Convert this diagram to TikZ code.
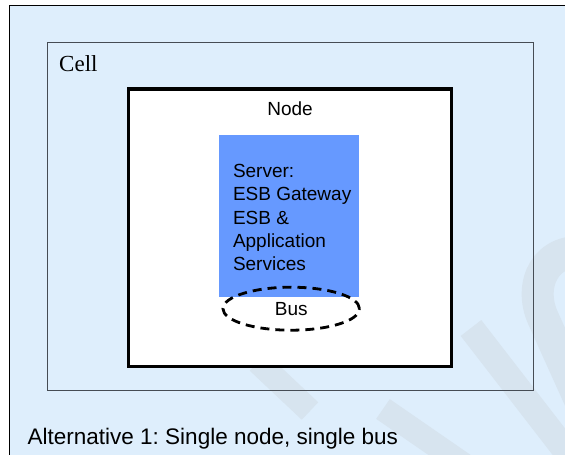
\documentclass[tikz,border=0pt]{standalone}
\usepackage{fontspec}
\setmainfont{Liberation Sans}
\newfontfamily\cellfont{Liberation Serif}
\usetikzlibrary{positioning,shapes.geometric}
\definecolor{pagebg}{RGB}{222,238,252}
\definecolor{wmgrey}{RGB}{215,228,239}
\definecolor{serverblue}{RGB}{102,153,255}
\definecolor{cellline}{RGB}{70,76,84}
\frenchspacing

\begin{document}
\begin{tikzpicture}[x=1pt,y=-1pt,
    cellbox/.style={draw=cellline,line width=1pt,minimum width=486.3pt,minimum height=347.7pt,inner sep=0pt},
    nodebox/.style={draw,line width=3.2pt,fill=white,minimum width=323.4pt,minimum height=277.7pt,inner sep=0pt},
    serverbox/.style={fill=serverblue,minimum width=140pt,minimum height=162pt,inner sep=0pt},
    busring/.style={ellipse,draw,line width=2.8pt,dash pattern=on 9pt off 6pt,minimum width=136.5pt,minimum height=43pt,inner sep=0pt},
    txt/.style={font=\fontsize{19}{23.3}\selectfont,inner sep=0pt},
    wmband/.style={draw=wmgrey,line width=24pt}]
  \useasboundingbox (0,0) rectangle (565,455);
  \fill[white] (0,0) rectangle (565,455);
  \fill[pagebg] (9,5) rectangle (565,455);
  \begin{scope}
    \clip (9,5) rectangle (565,455);
    \draw[wmband] (258,362) -- (310,411);
    \draw[wmband] (383,409) -- (480,476);
    \draw[wmband,line width=26pt] (471,328) -- (590,482);
    \draw[wmband,line width=32pt] (590,253) .. controls (545,245) and (528,285) .. (543,318) -- (580,400);
  \end{scope}
  \draw (9,455) -- (9,5) -- (565,5);

  \node[cellbox] (cell) at (290.15,216.15) {};
  \node[anchor=base west,inner sep=0pt,font=\cellfont\fontsize{23}{28}\selectfont] (celltitle) at ([shift={(12.5,30)}]cell.north west) {Cell};

  \node[nodebox] (nodebox) at (290,227.85) {};
  \node[txt] (nodetitle) at ([shift={(0,21)}]nodebox.north) {Node};

  \node[serverbox] (server) at (289,216) {};
  \node[txt,align=left,anchor=west] (servertext) at ([shift={(14,1.5)}]server.west) {Server:\\ESB Gateway\\ESB \&\\Application\\Services};

  \node[busring,txt] (bus) at (291.2,308.7) {Bus};

  \node[anchor=base west,inner sep=0pt,font=\fontsize{22.5}{27}\selectfont] (caption) at (27.5,444.3) {Alternative 1: Single node, single bus};
\end{tikzpicture}
\end{document}
